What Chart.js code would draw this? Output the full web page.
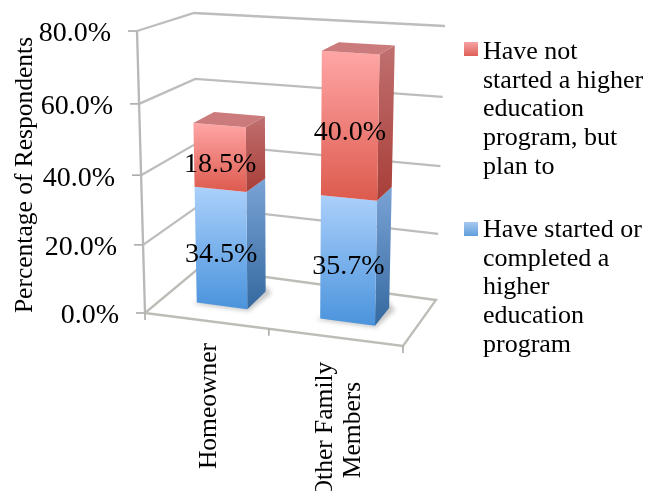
<!DOCTYPE html>
<html><head><meta charset="utf-8">
<style>html,body{margin:0;padding:0;background:#fff;overflow:hidden}canvas{display:block;filter:blur(0.45px)}</style>
<script src="https://cdn.jsdelivr.net/npm/chart.js@4/dist/chart.umd.min.js"></script>
</head><body><canvas id="c" width="654" height="491"></canvas>
<script>
const categories = [["Homeowner"], ["Other Family", "Members"]];
const startedValues = [34.5, 35.7];
const plannedValues = [18.5, 40.0];
const legendStarted = ["Have started or", "completed a", "higher", "education", "program"];
const legendPlanned = ["Have not", "started a higher", "education", "program, but", "plan to"];
const axisTitle = "Percentage of Respondents";
const yMax = 80, yStep = 20;

const SERIF = '"Liberation Serif", serif';
// corners of the drawn 3D box: floor then ceiling; front-left, front-right, back-left, back-right
const box = {
  f: [[145,313],[403,346],[199,268],[436,300]],
  c: [[137,31],[409,48],[194,13],[445,26]]
};
const depth = [0.33, 0.72];
function bilin(q,u,w){return [0,1].map(i=>(1-u)*(1-w)*q[0][i]+u*(1-w)*q[1][i]+(1-u)*w*q[2][i]+u*w*q[3][i]);}
function proj(u,v,w){
  const uu=u-0.08*u*(1-u), vv=v-0.045*v*(1-v);
  const a=bilin(box.f,uu,w), b=bilin(box.c,uu,w);
  return [a[0]+(b[0]-a[0])*vv, a[1]+(b[1]-a[1])*vv];
}
function poly(ctx,pts,fill){ctx.beginPath();pts.forEach((p,i)=>i?ctx.lineTo(p[0],p[1]):ctx.moveTo(p[0],p[1]));ctx.closePath();ctx.fillStyle=fill;ctx.fill();}
function grad(ctx,y0,y1,c0,c1){const g=ctx.createLinearGradient(0,y0,0,y1);g.addColorStop(0,c0);g.addColorStop(1,c1);return g;}
function line(ctx,pts,col,w){ctx.beginPath();pts.forEach((p,i)=>i?ctx.lineTo(p[0],p[1]):ctx.moveTo(p[0],p[1]));ctx.strokeStyle=col;ctx.lineWidth=w;ctx.stroke();}

const palette = [
  {front:['#abd0fb','#4a93dc'], side:['#7aa3d6','#35699f'], top:'#8fb4e0', key:['#a8c9f0','#5f9edb']},
  {front:['#ffa6a6','#dd5a4e'], side:['#c07070','#a83e38'], top:'#cb7b7b', key:['#f5a3a3','#df5f58']}
];

const box3d = {
  id:'box3d',
  beforeDatasetsDraw(chart){
    const ctx=chart.ctx, xs=chart.scales.x, ys=chart.scales.y;
    const U=p=>(p-xs.left)/xs.width, V=p=>(ys.bottom-p)/ys.height;
    ctx.save();
    const GRID='#bdbdbd';
    // floor
    const f=box.f;
    line(ctx,[f[0],f[1],f[3],f[2],f[0]],'#bdbdb8',2.3);
    // walls + y ticks
    ys.ticks.forEach(t=>{
      const v=V(ys.getPixelForValue(t.value));
      const a=proj(0,v,0), b=proj(0,v,1), c=proj(1,v,1);
      if(t.value>0) line(ctx,[a,b,c],GRID,2.3);
      line(ctx,[[a[0]-9,a[1]],a],'#aaaaaa',1.6);
      ctx.fillStyle='#000';ctx.font='28px '+SERIF;ctx.textAlign='right';ctx.textBaseline='middle';
      ctx.fillText(t.value.toFixed(1)+'%',a[0]-26,a[1]+3);
    });
    line(ctx,[proj(0,0,0),proj(0,1,0)],'#b8b8b8',2.3);
    // x ticks
    [0,0.5,1].forEach(u=>{const p=proj(u,0,0);line(ctx,[p,[p[0],p[1]+7]],'#aaaaaa',1.6);});
    // bars, from the library's bar elements
    const barLabels=[];
    chart.data.datasets.forEach((ds,di)=>{
      const pal=palette[di];
      chart.getDatasetMeta(di).data.forEach((el,i)=>{
        const u0=U(el.x-el.width/2),u1=U(el.x+el.width/2),v0=V(el.base),v1=V(el.y);
        const [w0,w1]=depth;
        const fbl=proj(u0,v0,w0),fbr=proj(u1,v0,w0),ftl=proj(u0,v1,w0),ftr=proj(u1,v1,w0);
        const bbr=proj(u1,v0,w1),btr=proj(u1,v1,w1),btl=proj(u0,v1,w1);
        if(di===0){ // floor shadow
          ctx.save();ctx.filter='blur(2px)';
          poly(ctx,[[fbl[0]-5,fbl[1]+1],[fbr[0]+1,fbr[1]+2],[bbr[0]+6,bbr[1]+2],[bbr[0],bbr[1]-6]],'#c8c8c8');
          ctx.restore();
        }
        poly(ctx,[fbr,bbr,btr,ftr],grad(ctx,btr[1],fbr[1],pal.side[0],pal.side[1]));
        poly(ctx,[fbl,fbr,ftr,ftl],grad(ctx,ftl[1],fbr[1],pal.front[0],pal.front[1]));
        if(di===chart.data.datasets.length-1) poly(ctx,[ftl,ftr,btr,btl],pal.top);
        const cx=(fbl[0]+fbr[0]+ftl[0]+ftr[0])/4, cy=(fbl[1]+fbr[1]+ftl[1]+ftr[1])/4;
        barLabels.push([ds.data[i].toFixed(1)+'%',cx,cy+7]);
      });
    });
    ctx.fillStyle='#000';ctx.font='28px '+SERIF;ctx.textAlign='center';ctx.textBaseline='middle';
    barLabels.forEach(l=>ctx.fillText(l[0],l[1],l[2]));
    // category labels
    ctx.font='25.5px '+SERIF;
    chart.data.labels.forEach((lab,i)=>{
      const p=proj(U(xs.getPixelForTick(i)),0,0);
      ctx.save();
      if(i===0){ctx.translate(p[0]+4,343);ctx.rotate(-Math.PI/2);ctx.textAlign='right';ctx.textBaseline='middle';ctx.fillText(lab[0],0,0);}
      else{ctx.translate(p[0]+5,430);ctx.rotate(-Math.PI/2);ctx.textAlign='center';ctx.textBaseline='middle';lab.forEach((s,k)=>ctx.fillText(s,0,(k-0.5)*28));}
      ctx.restore();
    });
    // legend
    ctx.font='26px '+SERIF;ctx.textAlign='left';ctx.textBaseline='middle';
    [[legendPlanned,palette[1],42,52],[legendStarted,palette[0],222,230]].forEach(([lines,pal,my,ty])=>{
      ctx.fillStyle=grad(ctx,my,my+14,pal.key[0],pal.key[1]);ctx.fillRect(464,my,14,14);
      ctx.fillStyle='#000';
      lines.forEach((s,k)=>ctx.fillText(s,483,ty+k*28.75));
    });
    ctx.restore();
    return false;
  }
};

new Chart(document.getElementById('c'),{
  type:'bar',
  data:{labels:categories,datasets:[
    {label:legendStarted.join(' '),data:startedValues,backgroundColor:'#5f9edb'},
    {label:legendPlanned.join(' '),data:plannedValues,backgroundColor:'#df5f58'}
  ]},
  options:{
    responsive:false,animation:false,devicePixelRatio:1,
    layout:{padding:{left:10,top:40,right:220,bottom:173}},
    plugins:{legend:{display:false},tooltip:{enabled:false}},
    scales:{
      x:{stacked:true,display:true,grid:{display:false},border:{display:false},ticks:{display:false},
         categoryPercentage:1},
      y:{stacked:true,min:0,max:yMax,ticks:{stepSize:yStep,display:false},grid:{display:false},border:{display:false},
         title:{display:true,text:axisTitle,color:'#000',font:{family:SERIF,size:25.5},padding:0}}
    },
    datasets:{bar:{categoryPercentage:1,barPercentage:0.42}}
  },
  plugins:[box3d]
});
</script></body></html>
